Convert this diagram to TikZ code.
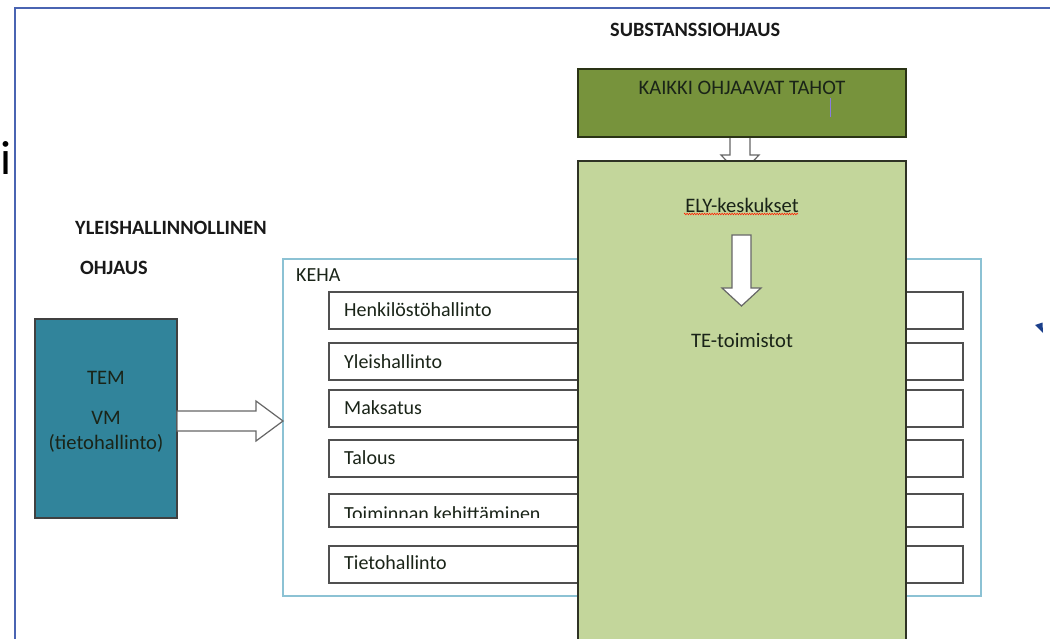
\documentclass[tikz,border=0pt]{standalone}
\usepackage{fontspec}
\setmainfont{Carlito}
\usetikzlibrary{calc,decorations.pathmorphing}
\definecolor{framecol}{HTML}{4A64B2}
\definecolor{temfill}{HTML}{31849B}
\definecolor{kaikkifill}{HTML}{77933C}
\definecolor{elyfill}{HTML}{C3D69B}
\definecolor{kehaline}{HTML}{8CC2D4}
\definecolor{rowline}{HTML}{505050}
\definecolor{txt}{HTML}{1A2418}
\definecolor{cursorcol}{HTML}{8A7BE0}
\definecolor{navy}{HTML}{1B3F8B}
\tikzset{
  rect/.style={inner sep=0pt, outer sep=0pt, anchor=north west},
  rowbox/.style={rect, draw=rowline, line width=1.4pt, fill=white},
  rowtext/.style={anchor=west, inner sep=0pt, font=\fontsize{20}{23}\selectfont, text=txt},
  title/.style={anchor=west, inner sep=0pt, font=\fontsize{20.3}{23}\selectfont\bfseries, text=black!90},
  boxtext/.style={inner sep=0pt, font=\fontsize{20.6}{23}\selectfont, text=txt},
  blockarrow/.style={draw=black!60, line width=1.2pt, fill=white, line join=miter},
}
\begin{document}
\begin{tikzpicture}[x=1pt,y=-1pt]
\useasboundingbox (0,0) rectangle (1050,639);
\clip (0,0) rectangle (1050,639);
\fill[white] (0,0) rectangle (1050,639);
% outer frame
\draw[framecol, line width=1.6pt] (15,700) -- (15,8) -- (1100,8);
% stray letter
\node[anchor=base west, inner sep=0pt, font=\fontsize{48}{50}\selectfont] (iletter) at (0,175) {i};
% titles
\node[title] (subst) at (610,30) {SUBSTANSSIOHJAUS};
\node[title] (yleis) at (75,228) {YLEISHALLINNOLLINEN};
\node[title] (ohjaus) at (80,268) {OHJAUS};
% KEHA frame
\node[rect, draw=kehaline, line width=1.5pt, minimum width=698pt, minimum height=337pt] (keha) at (283,259) {};
\node[anchor=west, inner sep=0pt, font=\fontsize{20}{23}\selectfont, text=txt] (kehatext) at (296,275) {KEHA};
% rows
\node[rowbox, minimum width=634pt, minimum height=37pt] (r1) at (329,292) {};
\node[rowbox, minimum width=634pt, minimum height=37pt] (r2) at (329,343) {};
\node[rowbox, minimum width=634pt, minimum height=37pt] (r3) at (329,390) {};
\node[rowbox, minimum width=634pt, minimum height=37pt] (r4) at (329,440) {};
\node[rowbox, minimum width=634pt, minimum height=33pt] (r5) at (329,494) {};
\node[rowbox, minimum width=634pt, minimum height=37pt] (r6) at (329,546) {};
\node[rowtext] (t1) at (344,310) {Henkilöstöhallinto};
\node[rowtext] (t2) at (344,362) {Yleishallinto};
\node[rowtext] (t3) at (344,408) {Maksatus};
\node[rowtext] (t4) at (344,458) {Talous};
\node[rowtext] (t6) at (344,563) {Tietohallinto};
\begin{scope}
\clip (329,494) rectangle (963,517.5);
\node[rowtext, anchor=base west] (t5) at (344,520.5) {Toiminnan kehittäminen};
\end{scope}
% TEM box
\node[rect, draw=black!75, line width=1.3pt, fill=temfill, minimum width=142pt, minimum height=199pt] (tem) at (35,319) {};
\node[boxtext] (temt) at (106,378) {TEM};
\node[boxtext] (vmt) at (106,418) {VM};
\node[boxtext] (tiet) at (106,443) {(tietohallinto)};
% arrow TEM -> KEHA
\draw[blockarrow] (tem.east |- 0,411) -- (256,411) -- (256,401) -- (keha.west |- 0,421) -- (256,441) -- (256,431) -- (tem.east |- 0,431) -- cycle;
% top arrow KAIKKI -> ELY
\draw[blockarrow] (730,137) -- (730,155) -- (721,155) -- (740,175) -- (759,155) -- (750,155) -- (750,137);
% ELY box
\node[rect, draw=black!60!elyfill!60!black, line width=1.3pt, fill=elyfill, minimum width=328pt, minimum height=500pt] (ely) at (578,161) {};
% KAIKKI box
\node[rect, draw=black!65!kaikkifill, line width=1.3pt, fill=kaikkifill, minimum width=328pt, minimum height=68pt] (kaikki) at (578,69) {};
\node[boxtext] (kaikkit) at (742,88) {KAIKKI OHJAAVAT TAHOT};
\draw[cursorcol, line width=1.6pt] (830.5,98) -- (830.5,117);
% ELY texts
\node[boxtext] (elyt) at (742,205) {ELY-keskukset};
\draw[red!75!orange, line width=0.6pt, decorate, decoration={zigzag, segment length=2.5pt, amplitude=0.8pt}] (684,214) -- (798,214);
\node[boxtext] (tet) at (742,340) {TE-toimistot};
% arrow ELY -> TE
\draw[blockarrow] (732,235) -- (732,288) -- (722,288) -- (741.5,306) -- (761,288) -- (751,288) -- (751,235) -- cycle;
% small marker
\fill[navy] (1035,325) -- (1042.5,322.5) -- (1043,333) -- cycle;
\end{tikzpicture}
\end{document}
